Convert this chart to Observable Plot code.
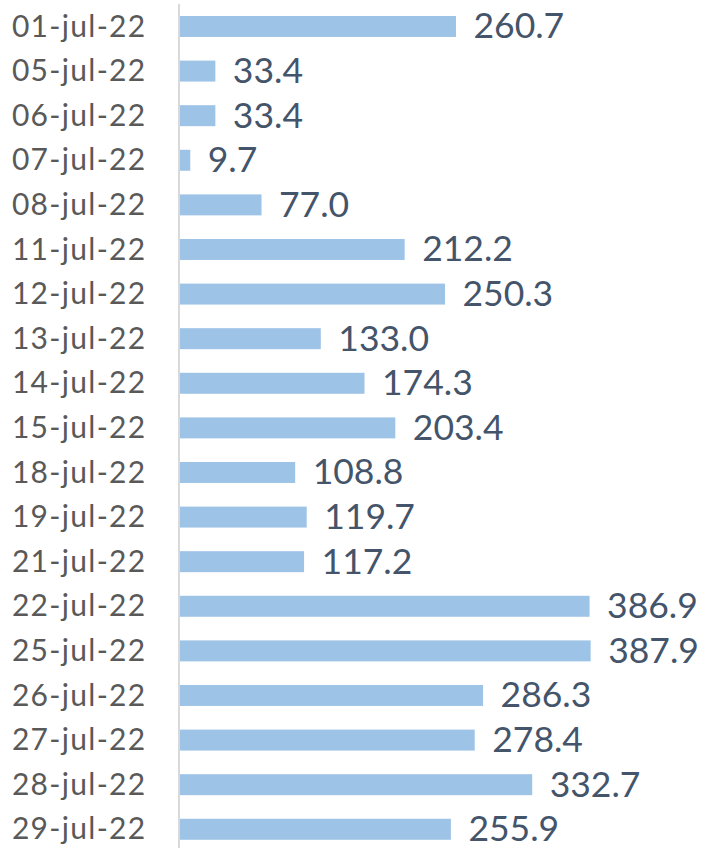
<!DOCTYPE html>
<html>
<head>
<meta charset="utf-8">
<script src="https://cdn.jsdelivr.net/npm/d3@7"></script>
<script src="https://cdn.jsdelivr.net/npm/@observablehq/plot@0.6"></script>
<style>
  html, body { margin: 0; padding: 0; background: #fff; }
  #chart svg { display: block; overflow: visible; }
  #chart g[aria-label="y-axis tick label"] text { letter-spacing: 1.3px; }
</style>
</head>
<body>
<div id="chart"></div>
<script>
const dates = ["01-jul-22","05-jul-22","06-jul-22","07-jul-22","08-jul-22","11-jul-22","12-jul-22","13-jul-22","14-jul-22","15-jul-22","18-jul-22","19-jul-22","21-jul-22","22-jul-22","25-jul-22","26-jul-22","27-jul-22","28-jul-22","29-jul-22"];
const values = [260.7,33.4,33.4,9.7,77.0,212.2,250.3,133.0,174.3,203.4,108.8,119.7,117.2,386.9,387.9,286.3,278.4,332.7,255.9];

const data = dates.map((d, i) => ({date: d, value: values[i]}));

const chart = Plot.plot({
  width: 704,
  height: 848,
  marginLeft: 180,
  marginRight: 0,
  marginTop: 4,
  marginBottom: 0,
  style: {fontFamily: "Lato, sans-serif", background: "#fff"},
  x: {domain: [0, 495], axis: null},
  y: {domain: dates, range: [16, 16 + 44.6 * (dates.length - 0.53)], paddingInner: 0.53, paddingOuter: 0, round: false, axis: null},
  marks: [
    Plot.barX(data, {x: "value", y: "date", fill: "#9DC3E6"}),
    Plot.ruleX([0], {stroke: "#D9D9D9", strokeWidth: 2, dx: -1.5}),
    Plot.axisY({tickSize: 0, tickPadding: 34, fontSize: 30, color: "#595959", label: null}),
    Plot.text(data, {x: "value", y: "date", text: d => d.value.toFixed(1), textAnchor: "start", dx: 17, fontSize: 35.5, fill: "#44546A"})
  ]
});
document.getElementById("chart").appendChild(chart);
</script>
</body>
</html>
